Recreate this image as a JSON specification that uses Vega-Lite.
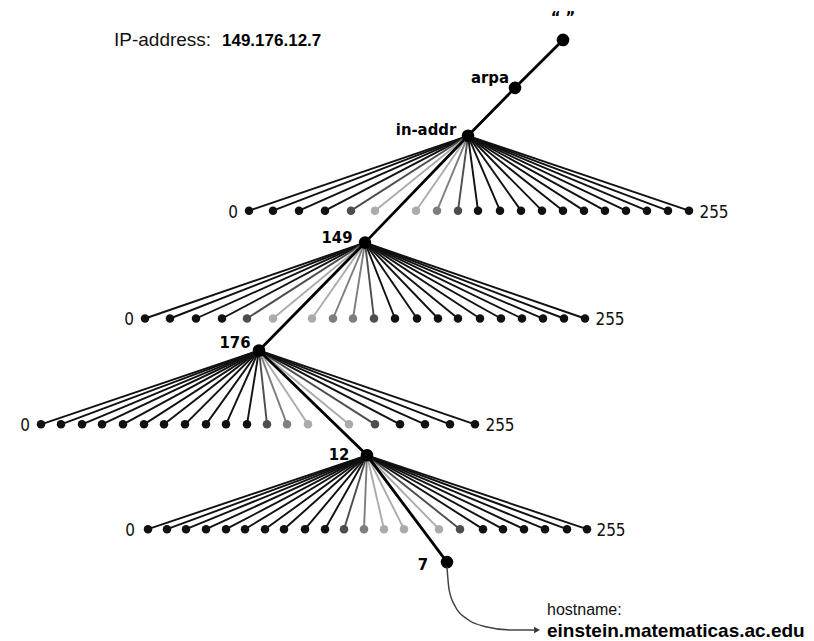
{
  "$schema": "https://vega.github.io/schema/vega-lite/v6.json",
  "width": 814,
  "height": 641,
  "autosize": {"type": "fit", "contains": "padding"},
  "padding": 0,
  "background": "#ffffff",
  "config": {"view": {"stroke": null}},
  "datasets": {
    "nodes": [
      {"id": "root", "x": 563, "y": 40, "order": 0},
      {"id": "arpa", "x": 515, "y": 88, "order": 1},
      {"id": "in-addr", "x": 468, "y": 136, "order": 2},
      {"id": "149", "x": 365, "y": 243, "order": 3},
      {"id": "176", "x": 259, "y": 351, "order": 4},
      {"id": "12", "x": 367, "y": 456, "order": 5},
      {"id": "7", "x": 447, "y": 563, "order": 6}
    ],
    "leaves": [
      {"fan": "in-addr", "x": 249, "y": 211, "tone": "t0"},
      {"fan": "in-addr", "x": 273, "y": 211, "tone": "t0"},
      {"fan": "in-addr", "x": 299, "y": 211, "tone": "t0"},
      {"fan": "in-addr", "x": 325, "y": 211, "tone": "t0"},
      {"fan": "in-addr", "x": 351, "y": 211, "tone": "t1"},
      {"fan": "in-addr", "x": 375, "y": 211, "tone": "t3"},
      {"fan": "in-addr", "x": 416, "y": 211, "tone": "t3"},
      {"fan": "in-addr", "x": 437, "y": 211, "tone": "t2"},
      {"fan": "in-addr", "x": 458, "y": 211, "tone": "t1"},
      {"fan": "in-addr", "x": 478, "y": 211, "tone": "t0"},
      {"fan": "in-addr", "x": 500, "y": 211, "tone": "t0"},
      {"fan": "in-addr", "x": 521, "y": 211, "tone": "t0"},
      {"fan": "in-addr", "x": 542, "y": 211, "tone": "t0"},
      {"fan": "in-addr", "x": 563, "y": 211, "tone": "t0"},
      {"fan": "in-addr", "x": 584, "y": 211, "tone": "t0"},
      {"fan": "in-addr", "x": 605, "y": 211, "tone": "t0"},
      {"fan": "in-addr", "x": 626, "y": 211, "tone": "t0"},
      {"fan": "in-addr", "x": 647, "y": 211, "tone": "t0"},
      {"fan": "in-addr", "x": 668, "y": 211, "tone": "t0"},
      {"fan": "in-addr", "x": 689, "y": 211, "tone": "t0"},
      {"fan": "149", "x": 145, "y": 319, "tone": "t0"},
      {"fan": "149", "x": 170, "y": 319, "tone": "t0"},
      {"fan": "149", "x": 196, "y": 319, "tone": "t0"},
      {"fan": "149", "x": 222, "y": 319, "tone": "t0"},
      {"fan": "149", "x": 247, "y": 319, "tone": "t1"},
      {"fan": "149", "x": 273, "y": 319, "tone": "t3"},
      {"fan": "149", "x": 312, "y": 319, "tone": "t3"},
      {"fan": "149", "x": 333, "y": 319, "tone": "t2"},
      {"fan": "149", "x": 353, "y": 319, "tone": "t2"},
      {"fan": "149", "x": 374, "y": 319, "tone": "t1"},
      {"fan": "149", "x": 395, "y": 319, "tone": "t0"},
      {"fan": "149", "x": 417, "y": 319, "tone": "t0"},
      {"fan": "149", "x": 438, "y": 319, "tone": "t0"},
      {"fan": "149", "x": 458, "y": 319, "tone": "t0"},
      {"fan": "149", "x": 480, "y": 319, "tone": "t0"},
      {"fan": "149", "x": 501, "y": 319, "tone": "t0"},
      {"fan": "149", "x": 522, "y": 319, "tone": "t0"},
      {"fan": "149", "x": 543, "y": 319, "tone": "t0"},
      {"fan": "149", "x": 564, "y": 319, "tone": "t0"},
      {"fan": "149", "x": 585, "y": 319, "tone": "t0"},
      {"fan": "176", "x": 41, "y": 425, "tone": "t0"},
      {"fan": "176", "x": 61, "y": 425, "tone": "t0"},
      {"fan": "176", "x": 82, "y": 425, "tone": "t0"},
      {"fan": "176", "x": 102, "y": 425, "tone": "t0"},
      {"fan": "176", "x": 123, "y": 425, "tone": "t0"},
      {"fan": "176", "x": 144, "y": 425, "tone": "t0"},
      {"fan": "176", "x": 164, "y": 425, "tone": "t0"},
      {"fan": "176", "x": 185, "y": 425, "tone": "t0"},
      {"fan": "176", "x": 206, "y": 425, "tone": "t0"},
      {"fan": "176", "x": 226, "y": 425, "tone": "t0"},
      {"fan": "176", "x": 247, "y": 425, "tone": "t0"},
      {"fan": "176", "x": 267, "y": 425, "tone": "t1"},
      {"fan": "176", "x": 287, "y": 425, "tone": "t2"},
      {"fan": "176", "x": 308, "y": 425, "tone": "t3"},
      {"fan": "176", "x": 349, "y": 425, "tone": "t3"},
      {"fan": "176", "x": 375, "y": 425, "tone": "t1"},
      {"fan": "176", "x": 400, "y": 425, "tone": "t0"},
      {"fan": "176", "x": 425, "y": 425, "tone": "t0"},
      {"fan": "176", "x": 450, "y": 425, "tone": "t0"},
      {"fan": "176", "x": 475, "y": 425, "tone": "t0"},
      {"fan": "12", "x": 148, "y": 530, "tone": "t0"},
      {"fan": "12", "x": 167, "y": 530, "tone": "t0"},
      {"fan": "12", "x": 186, "y": 530, "tone": "t0"},
      {"fan": "12", "x": 206, "y": 530, "tone": "t0"},
      {"fan": "12", "x": 226, "y": 530, "tone": "t0"},
      {"fan": "12", "x": 245, "y": 530, "tone": "t0"},
      {"fan": "12", "x": 265, "y": 530, "tone": "t0"},
      {"fan": "12", "x": 284, "y": 530, "tone": "t0"},
      {"fan": "12", "x": 305, "y": 530, "tone": "t0"},
      {"fan": "12", "x": 325, "y": 530, "tone": "t0"},
      {"fan": "12", "x": 344, "y": 530, "tone": "t1"},
      {"fan": "12", "x": 364, "y": 530, "tone": "t2"},
      {"fan": "12", "x": 384, "y": 530, "tone": "t3"},
      {"fan": "12", "x": 404, "y": 530, "tone": "t3"},
      {"fan": "12", "x": 439, "y": 530, "tone": "t3"},
      {"fan": "12", "x": 460, "y": 530, "tone": "t1"},
      {"fan": "12", "x": 483, "y": 530, "tone": "t0"},
      {"fan": "12", "x": 503, "y": 530, "tone": "t0"},
      {"fan": "12", "x": 524, "y": 530, "tone": "t0"},
      {"fan": "12", "x": 545, "y": 530, "tone": "t0"},
      {"fan": "12", "x": 567, "y": 530, "tone": "t0"},
      {"fan": "12", "x": 587, "y": 530, "tone": "t0"}
    ],
    "nodeLabels": [
      {"text": "“ ”", "x": 563, "y": 23},
      {"text": "arpa", "x": 490, "y": 83},
      {"text": "in-addr", "x": 426, "y": 135},
      {"text": "149", "x": 337, "y": 243},
      {"text": "176", "x": 235, "y": 349},
      {"text": "12", "x": 339, "y": 461},
      {"text": "7", "x": 423, "y": 571}
    ],
    "endLabels": [
      {"text": "0", "x": 233, "y": 218},
      {"text": "255", "x": 714, "y": 218},
      {"text": "0", "x": 129, "y": 326},
      {"text": "255", "x": 610, "y": 326},
      {"text": "0", "x": 25, "y": 432},
      {"text": "255", "x": 500, "y": 432},
      {"text": "0", "x": 130, "y": 537},
      {"text": "255", "x": 611, "y": 537}
    ],
    "arrow": [
      {"x": 447, "y": 568, "i": 0},
      {"x": 449, "y": 590, "i": 1},
      {"x": 455, "y": 607, "i": 2},
      {"x": 467, "y": 620, "i": 3},
      {"x": 487, "y": 628, "i": 4},
      {"x": 510, "y": 631, "i": 5},
      {"x": 534, "y": 631, "i": 6}
    ],
    "arrowHead": [{"x": 537, "y": 631}]
  },
  "encoding": {
    "x": {"field": "x", "type": "quantitative", "axis": null, "scale": {"domain": [0, 814], "nice": false, "zero": false}},
    "y": {"field": "y", "type": "quantitative", "axis": null, "scale": {"domain": [0, 641], "nice": false, "zero": false, "reverse": true}}
  },
  "layer": [
    {
      "data": {"name": "leaves"},
      "transform": [
        {"lookup": "fan", "from": {"data": {"name": "nodes"}, "key": "id", "fields": ["x", "y"]}, "as": ["rx", "ry"]}
      ],
      "mark": {"type": "rule", "strokeWidth": 1.9},
      "encoding": {
        "x2": {"field": "rx"},
        "y2": {"field": "ry"},
        "color": {"field": "tone", "type": "nominal", "legend": null,
          "scale": {"domain": ["t0", "t1", "t2", "t3"], "range": ["#111111", "#4d4d4d", "#7e7e7e", "#ababab"]}}
      }
    },
    {
      "data": {"name": "nodes"},
      "mark": {"type": "line", "color": "#000000", "strokeWidth": 2.8},
      "encoding": {"order": {"field": "order", "type": "quantitative"}}
    },
    {
      "data": {"name": "leaves"},
      "mark": {"type": "point", "filled": true, "opacity": 1, "size": 72},
      "encoding": {
        "color": {"field": "tone", "type": "nominal", "legend": null}
      }
    },
    {
      "data": {"name": "nodes"},
      "mark": {"type": "point", "filled": true, "opacity": 1, "size": 160, "color": "#000000"}
    },
    {
      "data": {"name": "arrow"},
      "mark": {"type": "line", "color": "#444444", "strokeWidth": 1.5, "interpolate": "monotone"},
      "encoding": {"order": {"field": "i", "type": "quantitative"}}
    },
    {
      "data": {"name": "arrowHead"},
      "mark": {"type": "point", "shape": "triangle-right", "filled": true, "opacity": 1, "size": 45, "color": "#333333"}
    },
    {
      "data": {"name": "nodeLabels"},
      "mark": {"type": "text", "font": "DejaVu Sans Condensed, Liberation Sans Narrow, Liberation Sans", "fontWeight": "bold", "fontSize": 16.5, "align": "center", "baseline": "alphabetic", "color": "#000000"},
      "encoding": {"text": {"field": "text"}}
    },
    {
      "data": {"name": "endLabels"},
      "mark": {"type": "text", "font": "DejaVu Sans Condensed, Liberation Sans Narrow, Liberation Sans", "fontSize": 17, "align": "center", "baseline": "alphabetic", "color": "#111111"},
      "encoding": {"text": {"field": "text"}}
    },
    {
      "data": {"values": [{"text": "IP-address:", "x": 114, "y": 46}]},
      "mark": {"type": "text", "font": "Liberation Sans", "fontSize": 19, "align": "left", "baseline": "alphabetic", "color": "#111111"},
      "encoding": {"text": {"field": "text"}}
    },
    {
      "data": {"values": [{"text": "149.176.12.7", "x": 222, "y": 46}]},
      "mark": {"type": "text", "font": "Liberation Sans", "fontWeight": "bold", "fontSize": 17, "align": "left", "baseline": "alphabetic", "color": "#000000"},
      "encoding": {"text": {"field": "text"}}
    },
    {
      "data": {"values": [{"text": "hostname:", "x": 547, "y": 616}]},
      "mark": {"type": "text", "font": "Liberation Sans", "fontSize": 16, "align": "left", "baseline": "alphabetic", "color": "#111111"},
      "encoding": {"text": {"field": "text"}}
    },
    {
      "data": {"values": [{"text": "einstein.matematicas.ac.edu", "x": 547, "y": 638}]},
      "mark": {"type": "text", "font": "Liberation Sans", "fontWeight": "bold", "fontSize": 19, "align": "left", "baseline": "alphabetic", "color": "#000000"},
      "encoding": {"text": {"field": "text"}}
    }
  ]
}
